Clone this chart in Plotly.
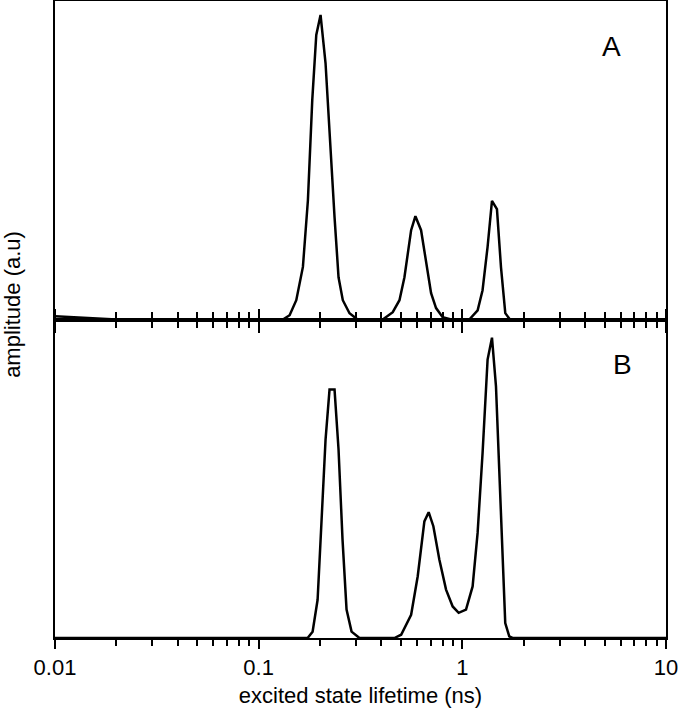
import plotly.graph_objects as go

# Panel A: lifetime (ns) and amplitude (a.u.)
lifetime_a = [0.01, 0.013, 0.016, 0.02, 0.1315, 0.1419, 0.1530, 0.1649, 0.1745, 0.1833, 0.1918,
              0.2013, 0.2130, 0.2228, 0.2358, 0.2467, 0.2589, 0.2793, 0.3057,
              0.4067, 0.4554, 0.4913, 0.5197, 0.5605, 0.5884, 0.6272, 0.6637, 0.7024,
              0.7431, 0.8006, 0.8805,
              1.082, 1.189, 1.257, 1.330, 1.398, 1.479, 1.548, 1.625, 1.714, 10.0]
amp_a = [1.0, 0.6, 0.25, 0.0, 0.0, 1.35, 6.07, 16.55, 37.5, 69.0, 89.5,
         95.8, 80.6, 58.6, 32.2, 13.3, 6.07, 1.98, 0.0,
         0.0, 2.3, 6.07, 13.3, 28.1, 32.5, 28.1, 17.7, 8.3,
         3.6, 0.7, 0.0,
         0.0, 2.9, 9.2, 22.8, 37.3, 34.7, 16.5, 2.0, 0.0, 0.0]

# Panel B
lifetime_b = [0.01, 0.1739, 0.1840, 0.1947, 0.2037, 0.2130, 0.2228, 0.2358, 0.2467, 0.2581,
              0.2701, 0.2858, 0.3126,
              0.4642, 0.5008, 0.5605, 0.6039, 0.6510, 0.6834, 0.7207, 0.7714, 0.8319,
              0.8965, 0.9592, 1.0425, 1.1233, 1.1885, 1.2572, 1.3305, 1.3982, 1.4628,
              1.5477, 1.6245, 1.6996, 1.7640, 10.0]
amp_b = [0.0, 0.0, 1.98, 12.0, 37.2, 62.3, 78.0, 78.0, 59.2, 30.9,
         8.9, 2.0, 0.0,
         0.0, 1.04, 7.3, 19.4, 36.6, 39.5, 35.1, 24.6, 15.2,
         9.9, 7.9, 8.9, 16.2, 33.0, 58.1, 87.4, 94.3, 79.0,
         37.2, 4.7, 0.5, 0.0, 0.0]

panel_labels = ["A", "B"]
x_title = "excited state lifetime (ns)"
y_title = "amplitude (a.u)"
tick_vals = [0.01, 0.1, 1, 10]
tick_text = ["0.01", "0.1", "1", "10"]

FONT = "Liberation Sans, Arial, sans-serif"
line_style = dict(color="black", width=2.5)

fig = go.Figure()
fig.add_trace(go.Scatter(x=lifetime_a, y=amp_a, mode="lines", line=line_style,
                         xaxis="x2", yaxis="y2", showlegend=False))
fig.add_trace(go.Scatter(x=lifetime_b, y=amp_b, mode="lines", line=line_style,
                         xaxis="x", yaxis="y", showlegend=False))

common_x = dict(type="log", range=[-2, 1], showgrid=False, zeroline=False,
                showline=True, linecolor="black", linewidth=2, automargin=False)

fig.update_layout(
    width=678, height=720,
    margin=dict(l=55, r=12, t=1, b=82),
    paper_bgcolor="white", plot_bgcolor="white",
    font=dict(family=FONT, size=22, color="black"),
    xaxis=dict(**common_x, anchor="y", mirror="ticks",
               ticks="outside", ticklen=9, tickwidth=2, tickcolor="black",
               tickvals=tick_vals, ticktext=tick_text,
               tickfont=dict(size=22, family=FONT), ticklabeloverflow="allow",
               minor=dict(ticks="outside", ticklen=6, tickwidth=1.5, tickcolor="black", dtick="D1"),
               title=dict(text=x_title, font=dict(size=22, family=FONT), standoff=8)),
    xaxis2=dict(**common_x, anchor="y2", mirror=True,
                ticks="outside", ticklen=11, tickwidth=2, tickcolor="black",
                tickvals=tick_vals, showticklabels=False,
                minor=dict(ticks="outside", ticklen=6, tickwidth=1.5, tickcolor="black", dtick="D1"),
                matches="x"),
    yaxis=dict(domain=[0, 0.5], range=[0, 100], showgrid=False, zeroline=False,
               showline=True, linecolor="black", linewidth=2, mirror=True,
               ticks="", showticklabels=False, automargin=False),
    yaxis2=dict(domain=[0.5, 1], range=[0, 100.2], showgrid=False, zeroline=False,
                showline=True, linecolor="black", linewidth=2, mirror=True,
                ticks="", showticklabels=False, automargin=False),
    annotations=[
        dict(text=panel_labels[0], xref="paper", yref="paper", x=0.9116, y=0.928,
             xanchor="center", yanchor="middle",
             showarrow=False, font=dict(size=28, family=FONT)),
        dict(text=panel_labels[1], xref="paper", yref="paper", x=0.928, y=0.4286,
             xanchor="center", yanchor="middle",
             showarrow=False, font=dict(size=28, family=FONT)),
        dict(text=y_title, xref="paper", yref="paper", x=-0.0687, y=0.523,
             xanchor="center", yanchor="middle",
             textangle=-90, showarrow=False, font=dict(size=22, family=FONT)),
    ],
)

fig.write_html("out.html", config={"displayModeBar": False},
               post_script="document.body.style.margin='0';")
